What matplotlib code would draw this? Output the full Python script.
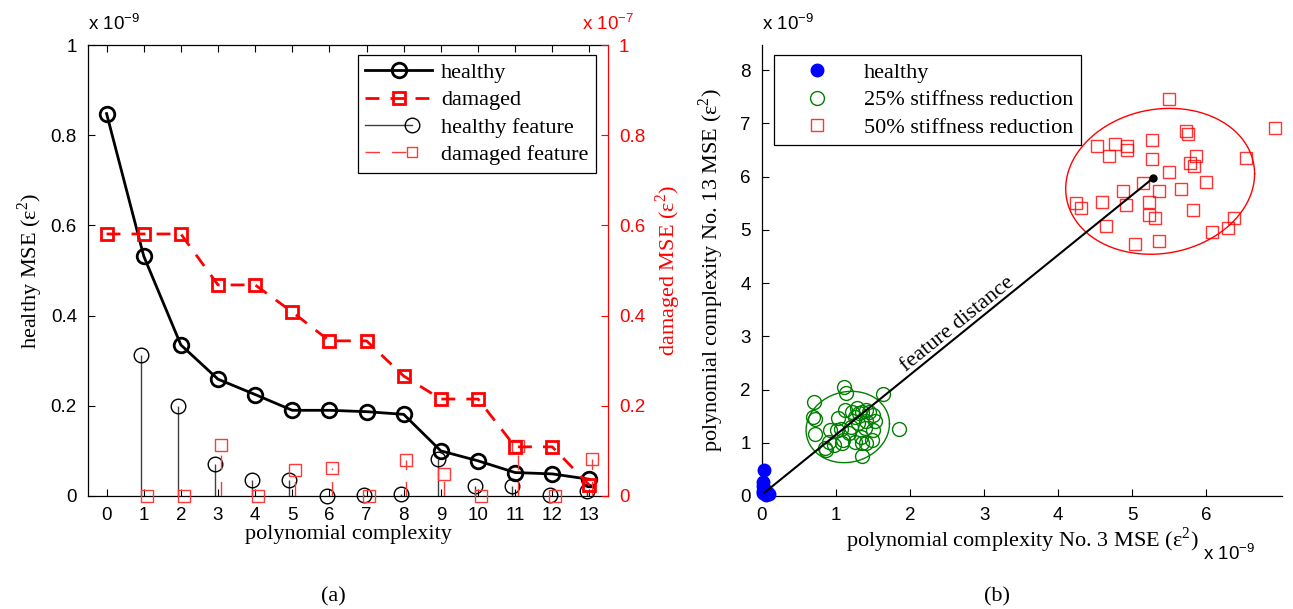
import numpy as np
import matplotlib
matplotlib.use("Agg")
import matplotlib.pyplot as plt
from matplotlib.lines import Line2D
from matplotlib.legend_handler import HandlerLine2D

# ---------------- data: panel (a) ----------------
complexity = list(range(14))
healthy_mse = [0.848, 0.532, 0.335, 0.259, 0.225, 0.190, 0.190, 0.187, 0.181,
               0.100, 0.078, 0.052, 0.049, 0.037]            # x 1e-9
damaged_mse = [0.581, 0.581, 0.581, 0.468, 0.468, 0.408, 0.344, 0.344, 0.266,
               0.215, 0.215, 0.109, 0.109, 0.024]            # x 1e-7
feature_idx = list(range(1, 14))
healthy_feature = [0.313, 0.200, 0.071, 0.035, 0.035, 0.000, 0.003, 0.005,
                   0.082, 0.022, 0.023, 0.002, 0.012]        # x 1e-9
damaged_feature = [0.000, 0.000, 0.114, 0.000, 0.057, 0.062, 0.000, 0.079,
                   0.049, 0.000, 0.110, 0.000, 0.083]        # x 1e-7
left_yticks = [0, 0.2, 0.4, 0.6, 0.8, 1]
left_yticklabels = ["0", "0.2", "0.4", "0.6", "0.8", "1"]

# ---------------- data: panel (b) ----------------
healthy_x = [0.03, 0.02, 0.01, 0.04, 0.07, 0.02, 0.09, 0.05, 0.01]
healthy_y = [0.48, 0.26, 0.18, 0.12, 0.08, 0.05, 0.03, 0.02, 0.10]
green_x = [1.11, 1.14, 1.64, 0.70, 0.69, 0.71, 0.72, 1.02, 1.12, 1.21, 1.28, 1.35,
           1.41, 1.25, 1.31, 1.50, 1.41, 1.39, 1.50, 1.85, 0.92, 1.01, 1.06, 0.90,
           0.85, 0.87, 1.10, 1.08, 1.26, 1.35, 1.48, 1.40, 1.35, 1.53, 1.17, 1.45,
           1.20, 1.33, 0.97, 1.30]
green_y = [2.04, 1.93, 1.91, 1.76, 1.49, 1.44, 1.17, 1.46, 1.62, 1.58, 1.65, 1.57,
           1.62, 1.49, 1.55, 1.52, 1.40, 1.27, 1.24, 1.25, 1.24, 1.24, 1.25, 1.02,
           0.90, 0.86, 1.05, 0.99, 1.02, 0.99, 1.05, 1.00, 0.76, 1.40, 1.18, 1.58,
           1.30, 1.10, 0.95, 1.38]
red_x = [5.49, 4.52, 4.77, 4.93, 4.93, 4.69, 5.27, 5.27, 5.49, 5.15, 4.88, 5.36,
         4.24, 4.31, 4.59, 4.91, 5.23, 5.22, 5.30, 4.64, 5.03, 5.36, 6.92, 5.72,
         5.75, 5.86, 5.78, 5.83, 6.53, 5.99, 5.65, 5.82, 6.37, 6.29, 6.08]
red_y = [7.45, 6.58, 6.61, 6.57, 6.50, 6.38, 6.69, 6.33, 6.09, 5.87, 5.73, 5.73,
         5.51, 5.40, 5.52, 5.46, 5.53, 5.28, 5.23, 5.08, 4.73, 4.79, 6.92, 6.85,
         6.79, 6.39, 6.26, 6.20, 6.35, 5.89, 5.76, 5.38, 5.23, 5.03, 4.95]
# ellipses: centre x, centre y, semi-axis x, semi-axis y, tilt term
green_ellipse = (1.158, 1.296, 0.563, 0.667, 0.06)
red_ellipse = (5.375, 5.91, 1.275, 1.363, 0.14)
healthy_centroid = (0.03, 0.06)
damaged_centroid = (5.28, 5.97)

SERIF = "Liberation Serif"
SANS = "Liberation Sans"
plt.rcParams["font.family"] = SANS
plt.rcParams["mathtext.fontset"] = "custom"
plt.rcParams["mathtext.rm"] = SANS
plt.rcParams["axes.unicode_minus"] = False

fig = plt.figure(figsize=(12.93, 6.09), dpi=100)
W, H = 1293, 609


def axrect(x0, x1, y0, y1):
    return [x0 / W, 1 - y1 / H, (x1 - x0) / W, (y1 - y0) / H]


TICK_FS = 13.5
LAB_FS = 16
RED = "#ff0000"
LRED = "#ff3838"

# ================= panel (a) =================
ax1 = fig.add_axes(axrect(88, 608, 45, 496))
ax2 = ax1.twinx()

x = np.array(complexity, dtype=float)
xf = np.array(feature_idx, dtype=float)
ax1.vlines(xf - 0.075, 0, healthy_feature, colors="#404040", lw=1.0, zorder=2)
ax1.plot(xf - 0.075, healthy_feature, "o", ms=10.5, mfc="none", mec="black",
         mew=1.0, clip_on=False, zorder=3)
l_h, = ax1.plot(x, healthy_mse, "-o", color="black", lw=2.0, ms=10.5,
                mfc="none", mew=2.0, zorder=4)

ax2.vlines(xf + 0.075, 0, damaged_feature, colors=LRED, lw=1.0,
           linestyles=[(0, (10.5, 8.5))], zorder=2)
ax2.plot(xf + 0.075, damaged_feature, "s", ms=9, mfc="none", mec=LRED,
         mew=1.0, clip_on=False, zorder=3)
l_d, = ax2.plot(x, damaged_mse, "s", ls=(0, (5, 4)), color=RED, lw=2.0, ms=9,
                mfc="none", mew=2.0, zorder=4)

ax1.set_xlim(-0.5, 13.5)
ax1.set_ylim(0, 1)
ax2.set_ylim(0, 1)
ax1.set_xticks(complexity)
ax1.set_yticks(left_yticks)
ax1.set_yticklabels(left_yticklabels)
ax2.set_yticks(left_yticks)
ax2.set_yticklabels(left_yticklabels)
ax1.tick_params(axis="x", direction="in", top=True, length=5, width=0.8,
                labelsize=TICK_FS, pad=8)
ax1.tick_params(axis="y", direction="in", right=False, length=5, width=0.8,
                labelsize=TICK_FS, pad=8)
ax2.tick_params(axis="y", direction="in", length=5, width=0.8, colors=RED,
                labelsize=TICK_FS, pad=8)
for s in ["left", "top", "bottom"]:
    ax1.spines[s].set_linewidth(0.9)
ax1.spines["right"].set_visible(False)
ax2.spines["right"].set_color(RED)
ax2.spines["right"].set_linewidth(0.9)
ax2.spines["left"].set_visible(False)
ax2.spines["top"].set_visible(False)
ax2.spines["bottom"].set_visible(False)

ax1.set_xlabel("polynomial complexity", family=SERIF, fontsize=LAB_FS, labelpad=1)
ax1.set_ylabel(r"healthy MSE (ε$^{\mathregular{2}}$)", family=SERIF,
               fontsize=LAB_FS, labelpad=4)
ax2.set_ylabel(r"damaged MSE (ε$^{\mathregular{2}}$)", family=SERIF,
               fontsize=LAB_FS, color=RED, labelpad=6)
ax1.text(0.0, 1.025, r"x 10$^{\mathregular{-9}}$", transform=ax1.transAxes,
         fontsize=TICK_FS, ha="left", va="bottom")
ax2.text(0.95, 1.025, r"x 10$^{\mathregular{-7}}$", transform=ax2.transAxes,
         fontsize=TICK_FS, ha="left", va="bottom", color=RED)


class StemLegendHandler(HandlerLine2D):
    """Legend entry like a MATLAB stem: shorter line with marker at its end."""

    def create_artists(self, *args, **kwargs):
        arts = super().create_artists(*args, **kwargs)
        for a in arts:
            if isinstance(a, Line2D):
                xd = np.asarray(a.get_xdata(), dtype=float)
                x0, x1 = xd[0], xd[-1]
                a.set_xdata(np.linspace(x0, x0 + 0.70 * (x1 - x0), len(xd)))
                if a.get_marker() not in (None, "None", ""):
                    a.set_markevery([len(xd) - 1])
        return arts


h_feat = Line2D([], [], color="#404040", lw=1.0, marker="o", ms=10.5,
                mfc="none", mec="black", mew=1.0)
d_feat = Line2D([], [], color=LRED, lw=1.0, ls=(0, (10.5, 8.5)), marker="s",
                ms=7, mfc="none", mec=LRED, mew=1.0)
leg1 = ax2.legend([l_h, l_d, h_feat, d_feat],
                  ["healthy", "damaged", "healthy feature", "damaged feature"],
                  loc="upper right", bbox_to_anchor=(0.977, 0.978),
                  borderaxespad=0, prop={"family": SERIF, "size": LAB_FS},
                  fancybox=False, framealpha=1, edgecolor="black",
                  handlelength=3.0, labelspacing=0.3, borderpad=0.35,
                  handletextpad=0.4, numpoints=1,
                  handler_map={h_feat: StemLegendHandler(),
                               d_feat: StemLegendHandler()})
leg1.get_frame().set_linewidth(0.9)

# ================= panel (b) =================
ax3 = fig.add_axes(axrect(762, 1282, 45, 496))
t = np.linspace(0, 2 * np.pi, 300)
for (cx, cy, a, b, c), col in [(green_ellipse, "#008000"), (red_ellipse, RED)]:
    ax3.plot(cx + a * np.cos(t), cy + b * np.sin(t) + c * np.cos(t),
             color=col, lw=1.0, zorder=2)

p_h, = ax3.plot(healthy_x, healthy_y, "o", ls="none", color="#0000ff", ms=9,
                clip_on=False, zorder=3)
p_g, = ax3.plot(green_x, green_y, "o", ls="none", ms=10, mfc="none",
                mec="#008000", mew=1.0, zorder=3)
p_r, = ax3.plot(red_x, red_y, "s", ls="none", ms=9, mfc="none", mec=RED,
                mew=1.0, alpha=0.8, clip_on=False, zorder=3)
ax3.plot([healthy_centroid[0], damaged_centroid[0]],
         [healthy_centroid[1], damaged_centroid[1]], color="black", lw=1.5,
         zorder=4)
ax3.plot([damaged_centroid[0]], [damaged_centroid[1]], "o", color="black",
         ms=5, zorder=5)

ax3.set_xlim(0, 7.02)
ax3.set_ylim(0, 8.47)
ax3.set_xticks(range(7))
ax3.set_yticks(range(9))
ax3.tick_params(direction="in", length=5, width=0.8, labelsize=TICK_FS, pad=8)
ax3.spines["top"].set_visible(False)
ax3.spines["right"].set_visible(False)
ax3.spines["left"].set_linewidth(0.9)
ax3.spines["bottom"].set_linewidth(0.9)

# feature distance label along the line
x_mid = 2.72
frac = (x_mid - healthy_centroid[0]) / (damaged_centroid[0] - healthy_centroid[0])
y_mid = healthy_centroid[1] + frac * (damaged_centroid[1] - healthy_centroid[1])
p0 = ax3.transData.transform(healthy_centroid)
p1 = ax3.transData.transform(damaged_centroid)
ang = np.degrees(np.arctan2(p1[1] - p0[1], p1[0] - p0[0]))
ax3.text(x_mid, y_mid, "feature distance", family=SERIF, fontsize=LAB_FS,
         rotation=ang, rotation_mode="anchor", ha="center", va="bottom")

ax3.set_xlabel(r"polynomial complexity No. 3 MSE (ε$^{\mathregular{2}}$)",
               family=SERIF, fontsize=LAB_FS, labelpad=1)
ax3.set_ylabel(r"polynomial complexity No. 13 MSE (ε$^{\mathregular{2}}$)",
               family=SERIF, fontsize=LAB_FS, labelpad=10)
ax3.text(0.0, 1.025, r"x 10$^{\mathregular{-9}}$", transform=ax3.transAxes,
         fontsize=TICK_FS, ha="left", va="bottom")
ax3.text(0.848, -0.105, r"x 10$^{\mathregular{-9}}$", transform=ax3.transAxes,
         fontsize=TICK_FS, ha="left", va="top")

leg2 = ax3.legend([p_h, p_g, p_r],
                  ["healthy", "25% stiffness reduction", "50% stiffness reduction"],
                  loc="upper left", bbox_to_anchor=(0.023, 0.978),
                  borderaxespad=0, prop={"family": SERIF, "size": LAB_FS},
                  fancybox=False, framealpha=1, edgecolor="black",
                  handlelength=3.2, labelspacing=0.3, borderpad=0.35,
                  handletextpad=0.5, numpoints=1)
leg2.get_frame().set_linewidth(0.9)

fig.text(333 / W, 1 - 597 / H, "(a)", family=SERIF, fontsize=LAB_FS,
         ha="center", va="center")
fig.text(997 / W, 1 - 597 / H, "(b)", family=SERIF, fontsize=LAB_FS,
         ha="center", va="center")

fig.savefig("out.png", dpi=100)
